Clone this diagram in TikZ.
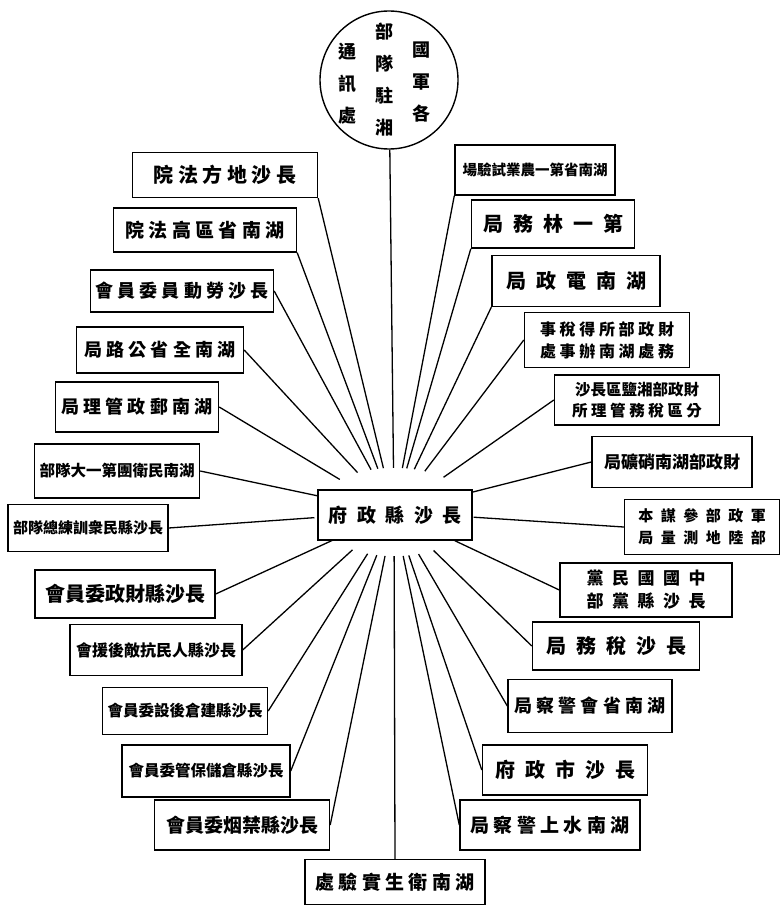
\documentclass[tikz,border=0pt]{standalone}
\usepackage{fontspec}
\newfontfamily\cjk{Noto Sans CJK TC}
\usepackage{tikz}
\usetikzlibrary{shapes.geometric, positioning}
\newcommand\fsz[2]{\cjk\bfseries\fontsize{#1}{#2}\selectfont}

\begin{document}
\begin{tikzpicture}[
    x=1pt, y=-1pt,
    office/.style={rectangle, draw, line width=1.4pt, minimum height=48pt, inner sep=1pt, align=center},
    col/.style={align=center, inner sep=0pt, font=\fsz{18}{32}},
    link/.style={line width=1.3pt},
    hubzone/.style={ellipse, minimum width=160pt, minimum height=88pt, inner sep=0pt}
]
\useasboundingbox (0,0) rectangle (781,909);

% 中心
\node[hubzone] (hub) at (394,512) {};
\node[circle, draw, line width=1.4pt, minimum size=138pt] (hq) at (389,80) {};
\node[col] (hqL) at (347,84) {通\\訊\\處};
\node[col] (hqM) at (384,80) {部\\隊\\駐\\湘};
\node[col] (hqR) at (421,82) {國\\軍\\各};

% 左側
\node[office, minimum width=185pt, minimum height=45pt, font=\fsz{20}{24}] (l1) at (225,175) {院 法 方 地 沙 長};
\node[office, minimum width=183pt, minimum height=44pt, font=\fsz{19}{24}] (l2) at (205,230) {院 法 高 區 省 南 湖};
\node[office, minimum width=183pt, minimum height=42pt, font=\fsz{18}{24}] (l3) at (182,291) {會 員 委 員 動 勞 沙 長};
\node[office, minimum width=167pt, minimum height=46pt, font=\fsz{18}{24}] (l4) at (160,350) {局 路 公 省 全 南 湖};
\node[office, minimum width=163pt, minimum height=50pt, font=\fsz{18}{24}] (l5) at (137,407) {局 理 管 政 郵 南 湖};
\node[office, minimum width=165pt, minimum height=54pt, font=\fsz{15.5}{24}] (l6) at (117,471) {部隊大一第團衛民南湖};
\node[office, minimum width=160pt, minimum height=47pt, font=\fsz{15}{24}] (l7) at (88,528) {部隊總練訓衆民縣沙長};
\node[office, minimum width=180pt, minimum height=48pt, font=\fsz{20}{24}] (l8) at (125,594) {會員委政財縣沙長};
\node[office, minimum width=172pt, minimum height=51pt, font=\fsz{16}{24}] (l9) at (156,650) {會援後敵抗民人縣沙長};
\node[office, minimum width=165pt, minimum height=47pt, font=\fsz{15.5}{24}] (l10) at (185,711) {會員委設後倉建縣沙長};
\node[office, minimum width=168pt, minimum height=52pt, font=\fsz{15.5}{24}] (l11) at (206,771) {會員委管保儲倉縣沙長};
\node[office, minimum width=175pt, minimum height=50pt, font=\fsz{19}{24}] (l12) at (242,825) {會員委烟禁縣沙長};
\node[office, minimum width=180pt, minimum height=45pt, font=\fsz{19}{24}] (bot) at (395,882) {處 驗 實 生 衛 南 湖};

% 右側
\node[office, minimum width=160pt, minimum height=50pt, font=\fsz{14.5}{24}] (r1) at (535,170) {場驗試業農一第省南湖};
\node[office, minimum width=163pt, minimum height=48pt, font=\fsz{20}{24}] (r2) at (553,224) {局\enspace 務\enspace 林\enspace 一\enspace 第};
\node[office, minimum width=168pt, minimum height=51pt, font=\fsz{20}{24}] (r3) at (576,281) {局\enspace 政\enspace 電\enspace 南\enspace 湖};
\node[office, minimum width=165pt, minimum height=55pt, font=\fsz{16}{22}] (r4) at (607,340) {事 稅 得 所 部 政 財\\處 事 辦 南 湖 處 務};
\node[office, minimum width=165pt, minimum height=50pt, font=\fsz{15.5}{21}] (r5) at (637,400) {沙長區鹽湘部政財\\所 理 管 務 稅 區 分};
\node[office, minimum width=160pt, minimum height=51pt, font=\fsz{17}{24}] (r6) at (672,462) {局礦硝南湖部政財};
\node[office, minimum width=155pt, minimum height=55pt, font=\fsz{15}{22}] (r7) at (702,527) {本\enspace 謀\enspace 參\enspace 部\enspace 政\enspace 軍\\局\enspace 量\enspace 測\enspace 地\enspace 陸\enspace 部};
\node[office, minimum width=172pt, minimum height=54pt, font=\fsz{17}{23}] (r8) at (646,590) {黨\enspace 民\enspace 國\enspace 國\enspace 中\\部\enspace 黨\enspace 縣\enspace 沙\enspace 長};
\node[office, minimum width=167pt, minimum height=48pt, font=\fsz{20}{24}] (r9) at (616,646) {局\enspace 務\enspace 稅\enspace 沙\enspace 長};
\node[office, minimum width=164pt, minimum height=53pt, font=\fsz{18}{24}] (r10) at (590,706) {局 察 警 會 省 南 湖};
\node[office, minimum width=165pt, minimum height=50pt, font=\fsz{20}{24}] (r11) at (565,770) {府\enspace 政\enspace 市\enspace 沙\enspace 長};
\node[office, minimum width=180pt, minimum height=50pt, font=\fsz{19}{24}] (r12) at (550,825) {局 察 警 上 水 南 湖};

% 連線
\draw[link] (hq) -- (hub);
\draw[link] (l1.south east) -- (hub);
\draw[link] (l2.south east) -- (hub);
\draw[link] (l3.east) -- (hub);
\draw[link] (l4.east) -- (hub);
\draw[link] (l5.east) -- (hub);
\draw[link] (l6.east) -- (hub);
\draw[link] (l7.east) -- (hub);
\draw[link] (l8.east) -- (hub);
\draw[link] (l9.east) -- (hub);
\draw[link] (l10.east) -- (hub);
\draw[link] (l11.east) -- (hub);
\draw[link] (l12.east) -- (hub);
\draw[link] (bot.north) -- (hub);
\draw[link] (r1.south west) -- (hub);
\draw[link] (r2.south west) -- (hub);
\draw[link] (r3.south west) -- (hub);
\draw[link] (r4.west) -- (hub);
\draw[link] (r5.west) -- (hub);
\draw[link] (r6.west) -- (hub);
\draw[link] (r7.west) -- (hub);
\draw[link] (r8.west) -- (hub);
\draw[link] (r9.west) -- (hub);
\draw[link] (r10.west) -- (hub);
\draw[link] (r11.west) -- (hub);
\draw[link] (r12.west) -- (hub);

% 縣政府
\node[office, fill=white, minimum width=154pt, minimum height=50pt, font=\fsz{19}{24}] (county) at (395,515) {府\enspace 政\enspace 縣\enspace 沙\enspace 長};

\end{tikzpicture}
\end{document}
